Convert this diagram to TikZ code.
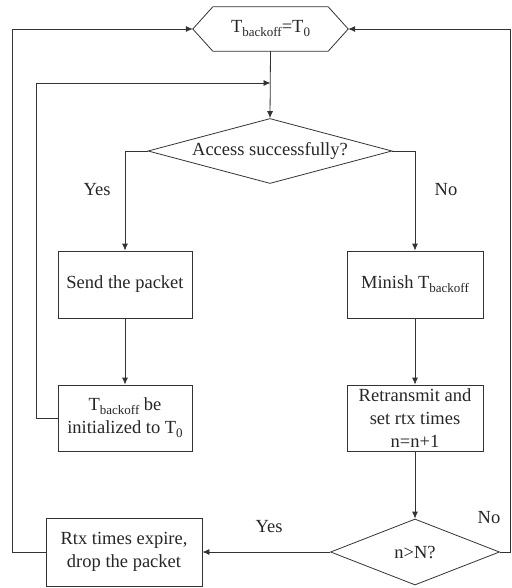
\documentclass[tikz,border=0pt]{standalone}
\usepackage{fontspec}
\setmainfont{Liberation Serif}
\usetikzlibrary{shapes.geometric,arrows.meta}
\newcommand\mysub[1]{\raisebox{-4pt}{\fontsize{13}{13}\selectfont #1}}
\tikzset{
  every node/.style={font=\fontsize{18.5}{23}\selectfont, text=black!85},
  boxnode/.style={draw=black!80, line width=0.8pt, rectangle, inner sep=0pt, align=center},
  dianode/.style={draw=black!80, line width=0.8pt, diamond, inner sep=0pt, align=center},
  conn/.style={draw=black!80, line width=0.8pt},
  arr/.style={conn, -{Latex[length=7pt,width=6pt]}},
  lbl/.style={inner sep=0pt}
}
\begin{document}
\begin{tikzpicture}[x=1pt,y=-1pt]
\useasboundingbox (0,0) rectangle (511,588);
% hexagon
\node[inner sep=0pt, minimum width=155pt, minimum height=44pt] (hex) at (270.5,29) {T\mysub{backoff}=T\mysub{0}};
\draw[conn] (hex.west) -- ([xshift=20pt]hex.north west) -- ([xshift=-20pt]hex.north east) -- (hex.east) -- ([xshift=-20pt]hex.south east) -- ([xshift=20pt]hex.south west) -- cycle;
% nodes
\node[dianode, aspect=3.75, minimum width=244pt, minimum height=65pt] (d1) at (270,151) {Access successfully?};
\node[boxnode, minimum width=134pt, minimum height=67pt] (send) at (125,284.5) {Send the packet};
\node[boxnode, minimum width=134pt, minimum height=66pt] (init) at (125,418) {T\mysub{backoff} be\\initialized to T\mysub{0}};
\node[boxnode, minimum width=136pt, minimum height=67pt] (minish) at (415,284.5) {Minish T\mysub{backoff}};
\node[boxnode, minimum width=136pt, minimum height=66pt] (retr) at (415,418) {Retransmit and\\set rtx times\\n=n+1};
\node[dianode, aspect=2.6, minimum width=169pt, minimum height=66pt] (d2) at (415,552) {n>N?};
\node[boxnode, minimum width=156pt, minimum height=68pt] (rtx) at (124,552) {Rtx times expire,\\drop the packet};
% labels
\node[lbl] (yes1) at (97,190) {Yes};
\node[lbl] (no1) at (446,190) {No};
\node[lbl] (yes2) at (269,527) {Yes};
\node[lbl] (no2) at (489,518) {No};
% coordinates
\coordinate (j1) at (hex.south |- 0,83);
\coordinate (lp) at (36,83);
\coordinate (op) at (12,29);
\coordinate (rp) at (510,29);
% connectors
\draw[arr] (hex.south) -- (d1.north);
\draw[arr] (d1.west) -| (send.north);
\draw[arr] (d1.east) -| (minish.north);
\draw[arr] (send.south) -- (init.north);
\draw[arr] (minish.south) -- (retr.north);
\draw[arr] (retr.south) -- (d2.north);
\draw[arr] (d2.west) -- (rtx.east);
\draw[arr] (init.west) -| (lp) -- (j1);
\draw[arr] (rtx.west) -| (op) -- (hex.west);
\draw[arr] (d2.east) -| (rp) -- (hex.east);
\end{tikzpicture}
\end{document}
